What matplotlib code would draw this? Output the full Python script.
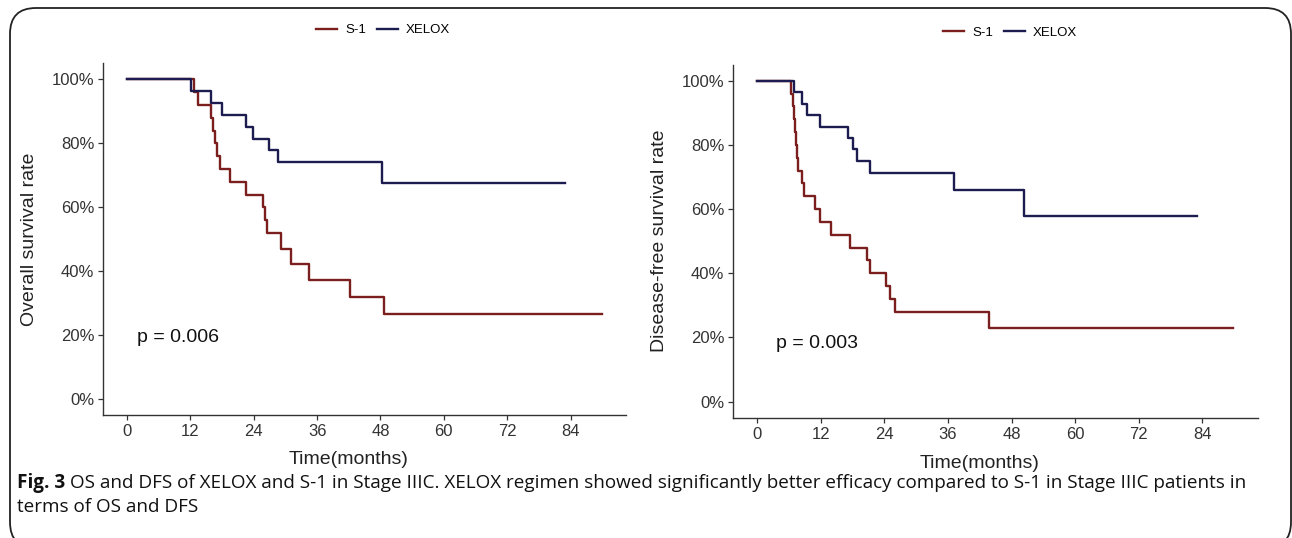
import matplotlib
matplotlib.use("Agg")
import matplotlib.pyplot as plt
from matplotlib.lines import Line2D
from matplotlib.patches import FancyBboxPatch
from matplotlib.ticker import PercentFormatter

# OS (months, survival %)
os_s1_t = [12.7, 13.4, 15.9, 16.3, 16.7, 17.0, 17.6, 19.5, 22.6, 25.8, 26.1, 26.5, 29.1, 31.1, 34.5, 42.3, 48.7]
os_s1_s = [96, 92, 88, 84, 80, 76, 72, 68, 64, 60, 56, 52, 47, 42.3, 37.3, 32.1, 26.6]
os_s1_end = 90
os_xe_t = [12.2, 15.9, 17.9, 22.6, 23.8, 26.9, 28.5, 48.2]
os_xe_s = [96.3, 92.6, 88.9, 85.2, 81.5, 77.8, 74.1, 67.6]
os_xe_end = 83

# DFS
dfs_s1_t = [6.3, 6.8, 7.0, 7.2, 7.4, 7.6, 7.8, 8.5, 8.9, 11.0, 11.8, 13.9, 17.6, 20.7, 21.2, 24.3, 25.0, 26.1, 43.7]
dfs_s1_s = [96, 92, 88, 84, 80, 76, 72, 68, 64, 60, 56, 52, 48, 44, 40, 36, 32, 28, 22.9]
dfs_s1_end = 89.8
dfs_xe_t = [6.9, 8.4, 9.4, 11.8, 17.1, 18.0, 18.9, 21.2, 37.2, 50.4]
dfs_xe_s = [96.4, 92.9, 89.3, 85.7, 82.1, 78.6, 75.0, 71.4, 65.9, 57.8]
dfs_xe_end = 82.9

groups = ["S-1", "XELOX"]
xticks = [0, 12, 24, 36, 48, 60, 72, 84]
yticks = [0, 20, 40, 60, 80, 100]
s1_col = "#7a1e1e"
xe_col = "#1c1c50"

plt.rcParams['font.family'] = ['Liberation Sans', 'DejaVu Sans']

W, H = 1292, 538
fig = plt.figure(figsize=(W / 100, H / 100), dpi=100)


def km(t, s, end):
    return [0] + t + [end], [100] + s + [s[-1]]


def panel(rect, curves, ylabel, ptxt, ppos, ylab_x, xlab_y):
    ax = fig.add_axes(rect)
    for (t, s, end), col in curves:
        x, y = km(t, s, end)
        ax.step(x, y, where='post', color=col, lw=1.7)
    ax.set_xlim(-4.5, 94.5)
    ax.set_ylim(-5, 105)
    ax.set_xticks(xticks)
    ax.set_yticks(yticks)
    ax.yaxis.set_major_formatter(PercentFormatter(decimals=0))
    for sp in ['top', 'right']:
        ax.spines[sp].set_visible(False)
    for sp in ['left', 'bottom']:
        ax.spines[sp].set_color('#333333')
        ax.spines[sp].set_linewidth(1.0)
    ax.tick_params(labelsize=12, colors='#333333', length=3.5, width=0.9, pad=3)
    ax.set_ylabel(ylabel, fontsize=14, color='#222222')
    ax.yaxis.set_label_coords(ylab_x, 0.5)
    ax.set_xlabel("Time(months)", fontsize=14, color='#222222')
    ax.xaxis.set_label_coords(0.47, xlab_y)
    ax.text(ppos[0], ppos[1], ptxt, fontsize=14, va='center', ha='left', color='#111111')
    return ax


panel([103.3 / W, 1 - 415.3 / H, 522.7 / W, 352 / H],
      [((os_s1_t, os_s1_s, os_s1_end), s1_col), ((os_xe_t, os_xe_s, os_xe_end), xe_col)],
      "Overall survival rate", "p = 0.006", (1.9, 19.2), -0.125, -0.102)
panel([733.3 / W, 1 - 417.7 / H, 524.7 / W, 353 / H],
      [((dfs_s1_t, dfs_s1_s, dfs_s1_end), s1_col), ((dfs_xe_t, dfs_xe_s, dfs_xe_end), xe_col)],
      "Disease-free survival rate", "p = 0.003", (3.5, 18.2), -0.124, -0.106)

handles = [Line2D([], [], color=s1_col, lw=1.7), Line2D([], [], color=xe_col, lw=1.7)]
for cx, cy in [(383, 30), (1010, 33)]:
    fig.legend(handles, groups, loc='center', bbox_to_anchor=(cx / W, 1 - cy / H),
               ncol=2, frameon=False, fontsize=9.5, handlelength=1.6,
               handletextpad=0.6, columnspacing=0.8)

# outer frame
frame = FancyBboxPatch((10 / W, -10 / H), 1281 / W, (H - 8 + 10) / H,
                       boxstyle="round,pad=0,rounding_size=0.02",
                       transform=fig.transFigure, fill=False, ec='#222222', lw=1.3,
                       mutation_aspect=W / H)
fig.add_artist(frame)

# caption
cap_font = ['Open Sans', 'DejaVu Sans']
cap_size = 13.6
t1 = fig.text(17 / W, 1 - 483 / H, "Fig. 3", fontsize=cap_size, fontweight='bold',
              family=cap_font, va='center', ha='left', color='#111111')
fig.canvas.draw()
bb = t1.get_window_extent()
fig.text((bb.x1 + 5) / W, 1 - 483 / H,
         "OS and DFS of XELOX and S-1 in Stage IIIC. XELOX regimen showed significantly better "
         "efficacy compared to S-1 in Stage IIIC patients in",
         fontsize=cap_size, family=cap_font, va='center', ha='left', color='#111111')
fig.text(17 / W, 1 - 507 / H, "terms of OS and DFS", fontsize=cap_size, family=cap_font,
         va='center', ha='left', color='#111111')

fig.savefig("out.png", dpi=100)
